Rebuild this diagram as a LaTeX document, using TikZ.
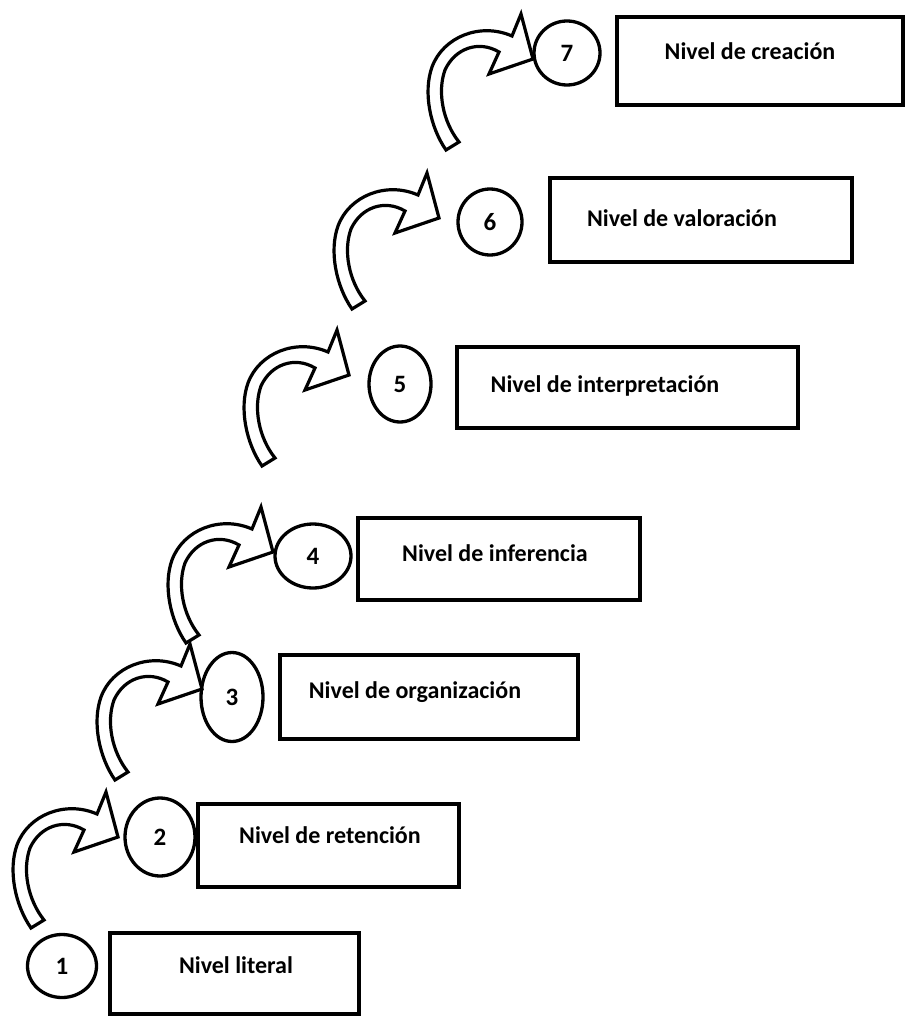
\documentclass[tikz,border=0pt]{standalone}
\usepackage{fontspec}
\setmainfont{Carlito}
\usetikzlibrary{shapes.geometric}
\newcommand\curvedblockarrow[2]{%
  \draw[blockarrow, shift={(#1,#2)}]
    (31,928) .. controls (15,905) and (8,870) .. (17,845)
    .. controls (28,815) and (65,800) .. (97,814)
    -- (106,792) -- (118,837) -- (74,852) -- (84,830)
    .. controls (64,818) and (40,826) .. (30,848)
    .. controls (22,870) and (28,900) .. (44,920) -- cycle;}
\begin{document}
\begin{tikzpicture}[x=1pt,y=-1pt,
  box/.style={draw, line width=3.6pt, rectangle, inner sep=0pt},
  num/.style={draw, line width=3.3pt, ellipse, inner sep=0pt,
    font=\fontsize{25}{25}\selectfont\bfseries},
  lbl/.style={font=\fontsize{24}{24}\selectfont\bfseries, inner sep=0pt, anchor=base},
  blockarrow/.style={draw, fill=white, line width=3.2pt, line join=miter}]
\useasboundingbox (0,0) rectangle (905,1016);

% level boxes
\node[box, minimum width=249pt, minimum height=81pt] (b1) at (234.5,973.5) {};
\node[box, minimum width=261pt, minimum height=83pt] (b2) at (328.5,845.5) {};
\node[box, minimum width=298pt, minimum height=84pt] (b3) at (429,697) {};
\node[box, minimum width=282pt, minimum height=82pt] (b4) at (499,559) {};
\node[box, minimum width=341pt, minimum height=81pt] (b5) at (627.5,387.5) {};
\node[box, minimum width=302pt, minimum height=84pt] (b6) at (701,220) {};
\node[box, minimum width=286pt, minimum height=88pt] (b7) at (760,61) {};

% labels
\node[lbl] (t1) at (236,973) {Nivel literal};
\node[lbl] (t2) at (330,843) {Nivel de retención};
\node[lbl] (t3) at (415,698) {Nivel de organización};
\node[lbl] (t4) at (495,561) {Nivel de inferencia};
\node[lbl] (t5) at (605,392) {Nivel de interpretación};
\node[lbl] (t6) at (682,226) {Nivel de valoración};
\node[lbl] (t7) at (750,60) {Nivel de creación};

% curved block arrows
\curvedblockarrow{0}{0}
\curvedblockarrow{84}{-148}
\curvedblockarrow{155}{-285}
\curvedblockarrow{231}{-462}
\curvedblockarrow{321}{-619}
\curvedblockarrow{415}{-778}

% number ellipses
\node[num, minimum width=69pt, minimum height=63pt] (c1) at (62,966) {1};
\node[num, minimum width=70pt, minimum height=78pt] (c2) at (160,837) {2};
\node[num, minimum width=62pt, minimum height=89pt] (c3) at (232,697) {3};
\node[num, minimum width=76pt, minimum height=64pt] (c4) at (313,556) {4};
\node[num, minimum width=62pt, minimum height=76pt] (c5) at (400,384) {5};
\node[num, minimum width=64pt, minimum height=66pt] (c6) at (490,222) {6};
\node[num, minimum width=66pt, minimum height=64pt] (c7) at (567,53) {7};
\end{tikzpicture}
\end{document}
